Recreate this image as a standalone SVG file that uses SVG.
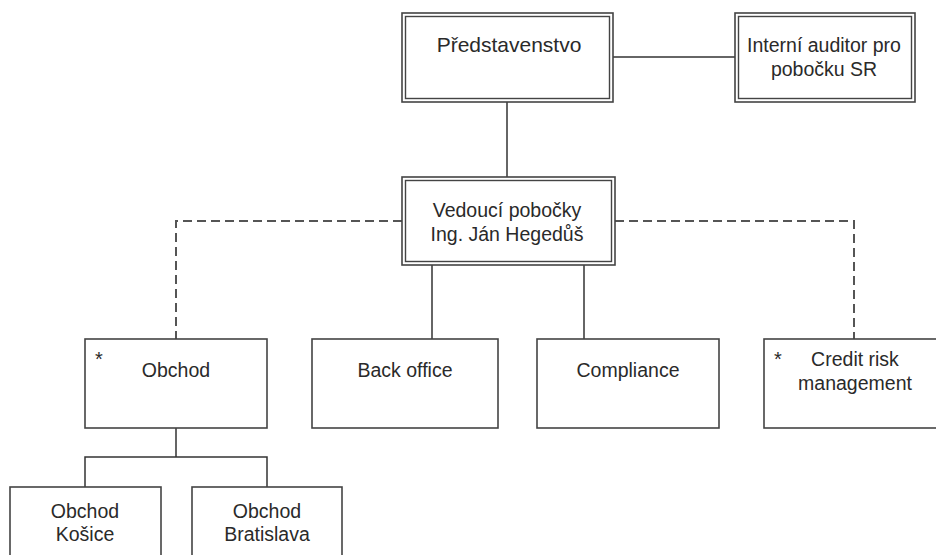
<svg xmlns="http://www.w3.org/2000/svg" width="936" height="555" viewBox="0 0 936 555">
<style>
.box{fill:#fff;stroke:#444;stroke-width:1.6}
.inner{fill:none;stroke:#444;stroke-width:1.4}
.ln{fill:none;stroke:#333;stroke-width:1.5}
.dash{fill:none;stroke:#555;stroke-width:2;stroke-dasharray:9 5}
text{font-family:"Liberation Sans",Arial,sans-serif;font-size:19.5px;fill:#2a2a2a;text-anchor:middle}
.big{font-size:21px}
.ast{font-size:20px;text-anchor:start}
</style>
<rect width="936" height="555" fill="#fff"/>
<g id="connectors">
<line class="ln" x1="613" y1="57" x2="735" y2="57"/>
<line class="ln" x1="507" y1="102" x2="507" y2="177"/>
<path class="dash" d="M402 221 H176 V339"/>
<path class="dash" d="M615 221 H854 V339"/>
<line class="ln" x1="432" y1="265" x2="432" y2="339"/>
<line class="ln" x1="584" y1="265" x2="584" y2="339"/>
<path class="ln" d="M176 428 V457 M85 487 V457 H267 V487"/>
</g>
<g id="predstavenstvo">
<rect class="box" x="402" y="13" width="211" height="89"/>
<rect class="inner" x="405.5" y="16.5" width="204" height="82"/>
<text class="big" x="509" y="52">Představenstvo</text>
</g>
<g id="auditor">
<rect class="box" x="735" y="13" width="180" height="89"/>
<rect class="inner" x="738.5" y="16.5" width="173" height="82"/>
<text x="824" y="52">Interní auditor pro</text>
<text x="824" y="76">pobočku SR</text>
</g>
<g id="vedouci">
<rect class="box" x="402" y="177" width="213" height="88"/>
<rect class="inner" x="405.5" y="180.5" width="206" height="81"/>
<text x="507" y="217">Vedoucí pobočky</text>
<text x="507" y="241">Ing. Ján Hegedůš</text>
</g>
<g id="obchod">
<rect class="box" x="85" y="339" width="182" height="89"/>
<text class="ast" x="95" y="366">*</text>
<text x="176" y="377">Obchod</text>
</g>
<g id="backoffice">
<rect class="box" x="312" y="339" width="186" height="89"/>
<text x="405" y="377">Back office</text>
</g>
<g id="compliance">
<rect class="box" x="537" y="339" width="182" height="89"/>
<text x="628" y="377">Compliance</text>
</g>
<g id="credit">
<rect class="box" x="764" y="339" width="182" height="89"/>
<text class="ast" x="774" y="366">*</text>
<text x="855" y="366">Credit risk</text>
<text x="855" y="390">management</text>
</g>
<g id="kosice">
<rect class="box" x="10" y="487" width="151" height="80"/>
<text x="85" y="518">Obchod</text>
<text x="85" y="541">Košice</text>
</g>
<g id="bratislava">
<rect class="box" x="192" y="487" width="150" height="80"/>
<text x="267" y="518">Obchod</text>
<text x="267" y="541">Bratislava</text>
</g>
</svg>
